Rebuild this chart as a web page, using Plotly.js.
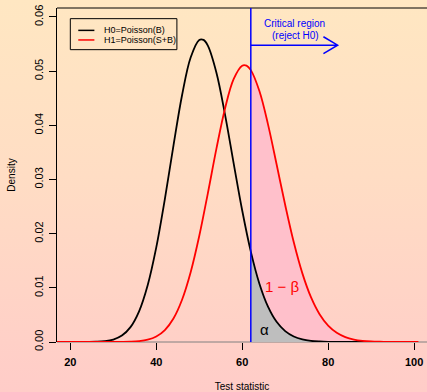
<!DOCTYPE html>
<html>
<head>
<meta charset="utf-8">
<script src="https://cdn.plot.ly/plotly-3.0.1.min.js"></script>
<style>
  html, body { margin: 0; padding: 0; }
  body { width: 427px; height: 392px; background: linear-gradient(to bottom, #FFE7C2 0%, #FFDDC4 45%, #FFCCC8 100%); }
  #chart { width: 427px; height: 392px; }
</style>
</head>
<body>
<div id="chart"></div>
<script>
// Test statistic values and densities
const xH0 = [16,18,20,22,24,26,28,30,32,34,36,38,40,42,44,46,48,50,51,52,54,56,58,60,62,64,66,68,70,72,74,76,78,80,82,84,86,88,90,92,94,96,98,100];
const densH0 = [0,0,0.0000004,0.0000023,0.000011,0.0000439,0.000151,0.000451,0.001183,0.002743,0.005662,0.010474,0.01746,0.02638,0.03626,0.04556,0.05253,0.05577,0.05577,0.05470,0.04971,0.04198,0.03303,0.02427,0.01669,0.010767,0.006528,0.003727,0.002007,0.001021,0.000492,0.000224,0.0000972,0.00004,0.0000157,0.0000058,0.0000021,0.0000007,0,0,0,0,0,0];

const xH1 = [16,18,20,22,24,26,28,30,32,34,36,38,40,42,44,46,48,50,52,54,56,58,60,61,62,64,66,68,70,72,74,76,78,80,82,84,86,88,90,92,94,96,98,100,101];
const densH1 = [0,0,0,0,0,0.0000002,0.000001,0.0000044,0.0000165,0.0000548,0.000162,0.000428,0.001022,0.002209,0.004344,0.007809,0.01288,0.01956,0.02745,0.03569,0.04312,0.04853,0.05101,0.05101,0.05019,0.04632,0.04018,0.03282,0.02528,0.01840,0.01267,0.008271,0.005124,0.003017,0.00169,0.000902,0.000459,0.000223,0.000104,0.0000462,0.0000197,0.000008,0.0000031,0.0000012,0.0000007];

const critX = 62;
const seriesNames = ["H0=Poisson(B)", "H1=Poisson(S+B)"];
const xTicks = [20, 40, 60, 80, 100];
const yTicks = [0, 0.01, 0.02, 0.03, 0.04, 0.05, 0.06];

function tail(xs, ys) {
  const ox = [], oy = [];
  xs.forEach((v, i) => { if (v >= critX) { ox.push(v); oy.push(ys[i]); } });
  return {x: ox, y: oy};
}
const t1 = tail(xH1, densH1);
const t0 = tail(xH0, densH0);

const FONT = "Liberation Sans, Arial, sans-serif";

const traces = [
  {x: t1.x, y: t1.y, type: 'scatter', mode: 'lines', fill: 'tozeroy', fillcolor: '#FFC0CB',
   line: {width: 0, shape: 'spline', smoothing: 1}, showlegend: false, hoverinfo: 'skip'},
  {x: t0.x, y: t0.y, type: 'scatter', mode: 'lines', fill: 'tozeroy', fillcolor: '#BEBEBE',
   line: {width: 0, shape: 'spline', smoothing: 1}, showlegend: false, hoverinfo: 'skip'},
  {x: xH0, y: densH0, type: 'scatter', mode: 'lines', name: seriesNames[0],
   line: {color: '#000000', width: 1.8, shape: 'spline', smoothing: 1}, showlegend: false},
  {x: xH1, y: densH1, type: 'scatter', mode: 'lines', name: seriesNames[1],
   line: {color: '#FF0000', width: 1.8, shape: 'spline', smoothing: 1}, showlegend: false}
];

const layout = {
  width: 427, height: 392,
  margin: {l: 57, r: 0, t: 8, b: 50},
  paper_bgcolor: 'rgba(0,0,0,0)',
  plot_bgcolor: 'rgba(0,0,0,0)',
  font: {family: FONT, color: '#000'},
  showlegend: false,
  xaxis: {
    range: [16.9, 103.0], tickvals: xTicks, ticktext: xTicks.map(String),
    ticks: 'outside', ticklen: 7, tickwidth: 1, tickcolor: '#000',
    showgrid: false, zeroline: false, showline: false,
    ticklabelstandoff: 3,
    tickfont: {family: FONT, size: 11, color: '#000', weight: 'bold'},
    title: {text: 'Test statistic', font: {family: FONT, size: 10, color: '#000'}, standoff: 18}
  },
  yaxis: {
    range: [0, 0.06166], tickvals: yTicks, ticktext: yTicks.map(v => v.toFixed(2)),
    ticks: 'outside', ticklen: 7, tickwidth: 1, tickcolor: '#000',
    showgrid: false, zeroline: false, showline: true, linecolor: '#000', linewidth: 1,
    tickangle: -90,
    ticklabelstandoff: 2,
    tickfont: {family: FONT, size: 11, color: '#000'},
    title: {text: 'Density', font: {family: FONT, size: 10, color: '#000'}, standoff: 15}
  },
  shapes: [
    {type: 'line', xref: 'paper', yref: 'paper', x0: 0, x1: 1, y0: 1, y1: 1, line: {color: '#000', width: 1}},
    {type: 'line', xref: 'paper', yref: 'paper', x0: 0, x1: 1, y0: 0, y1: 0, line: {color: '#808080', width: 1}, layer: 'below'},
    {type: 'line', xref: 'x', yref: 'paper', x0: critX, x1: critX, y0: 0, y1: 1, line: {color: '#0000FF', width: 1.5}},
    {type: 'path', xref: 'x', yref: 'y', path: 'M ' + critX + ' 0.0548 L 82.2 0.0548 M 78.9 0.05635 L 82.2 0.0548 L 78.9 0.05325', line: {color: '#0000FF', width: 1.5}},
    {type: 'rect', xref: 'x', yref: 'y', x0: 20.0, x1: 44.8, y0: 0.05397, y1: 0.05969, line: {color: '#000', width: 1}},
    {type: 'line', xref: 'x', yref: 'y', x0: 21.85, x1: 25.6, y0: 0.05753, y1: 0.05753, line: {color: '#000', width: 1.5}},
    {type: 'line', xref: 'x', yref: 'y', x0: 21.85, x1: 25.6, y0: 0.05576, y1: 0.05576, line: {color: '#FF0000', width: 1.5}}
  ],
  annotations: [
    {x: 27.4, y: 0.05753, xref: 'x', yref: 'y', text: seriesNames[0], showarrow: false, xanchor: 'left', yanchor: 'middle', font: {family: FONT, size: 9, color: '#000'}},
    {x: 27.4, y: 0.05576, xref: 'x', yref: 'y', text: seriesNames[1], showarrow: false, xanchor: 'left', yanchor: 'middle', font: {family: FONT, size: 9, color: '#000'}},
    {x: 72.1, y: 0.0588, xref: 'x', yref: 'y', text: 'Critical region', showarrow: false, xanchor: 'center', yanchor: 'middle', font: {family: FONT, size: 10, color: '#0000FF'}},
    {x: 72.5, y: 0.05655, xref: 'x', yref: 'y', text: '(reject H0)', showarrow: false, xanchor: 'center', yanchor: 'middle', font: {family: FONT, size: 10, color: '#0000FF'}},
    {x: 69.2, y: 0.0102, xref: 'x', yref: 'y', text: '1 \u2212 \u03B2', showarrow: false, xanchor: 'center', yanchor: 'middle', font: {family: FONT, size: 15, color: '#FF0000'}},
    {x: 65.3, y: 0.0023, xref: 'x', yref: 'y', text: '\u03B1', showarrow: false, xanchor: 'center', yanchor: 'middle', font: {family: FONT, size: 15, color: '#000'}}
  ]
};

Plotly.newPlot('chart', traces, layout, {staticPlot: true, displayModeBar: false});
</script>
</body>
</html>
